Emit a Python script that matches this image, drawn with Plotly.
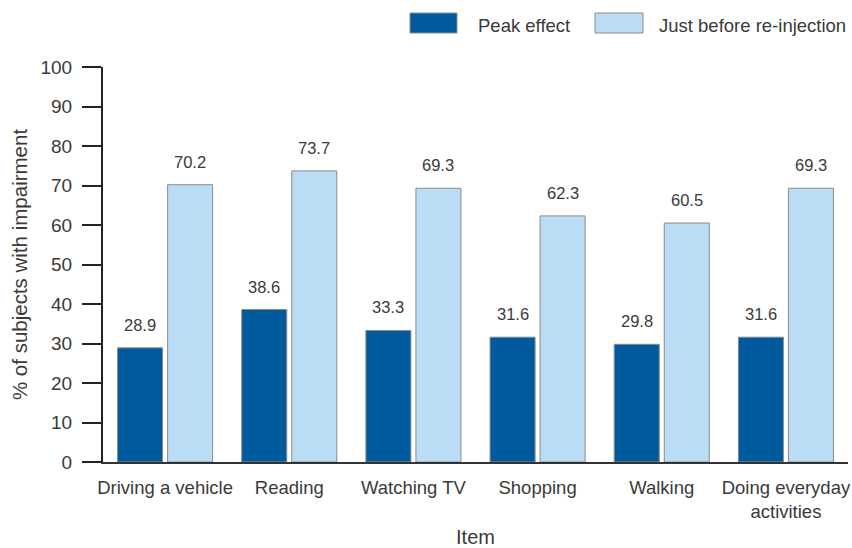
import plotly.graph_objects as go

# Data
categories = ["Driving a vehicle", "Reading", "Watching TV", "Shopping",
              "Walking", "Doing everyday<br>activities"]
peak_effect = [28.9, 38.6, 33.3, 31.6, 29.8, 31.6]
before_reinjection = [70.2, 73.7, 69.3, 62.3, 60.5, 69.3]
series_names = ["Peak effect", "Just before re-injection"]

DARK = "#005A9E"
LIGHT = "#BADCF4"
EDGE = "#8C8C8C"
TEXT = "#3A3A3A"
FONT = "Liberation Sans, Arial, sans-serif"

# plot-area geometry (pixels) used to place the custom legend
L, R, T, B = 103, 4, 67, 86
W, H = 852, 548
PW, PH = W - L - R, H - T - B


def px_x(px):
    return (px - L) / PW


def px_y(py):
    return (H - B - py) / PH


fig = go.Figure()
fig.add_trace(go.Bar(x=categories, y=peak_effect, name=series_names[0],
                     marker=dict(color=DARK, line=dict(color=EDGE, width=1))))
fig.add_trace(go.Bar(x=categories, y=before_reinjection, name=series_names[1],
                     marker=dict(color=LIGHT, line=dict(color=EDGE, width=1))))

# value labels above each bar
for i, cat in enumerate(categories):
    for j, vals in enumerate([peak_effect, before_reinjection]):
        fig.add_annotation(x=cat, y=vals[i], text=f"{vals[i]:.1f}",
                           xref="x", yref="y", showarrow=False,
                           xanchor="center", yanchor="bottom",
                           xshift=-25 if j == 0 else 25, yshift=12,
                           font=dict(size=16.5, color=TEXT, family=FONT))

# legend swatches and labels
legend_items = [(410, 457, 476, DARK), (595, 643, 657, LIGHT)]
for (x0, x1, tx, col), name in zip(legend_items, series_names):
    fig.add_shape(type="rect", xref="paper", yref="paper",
                  x0=px_x(x0), x1=px_x(x1), y0=px_y(33), y1=px_y(13),
                  fillcolor=col, line=dict(color=EDGE, width=1))
    fig.add_annotation(x=px_x(tx), y=px_y(25), xref="paper", yref="paper",
                       text=name, showarrow=False, xanchor="left",
                       yanchor="middle",
                       font=dict(size=18.5, color=TEXT, family=FONT))

fig.update_layout(
    width=W, height=H,
    margin=dict(l=L, r=R, t=T, b=B, pad=0, autoexpand=False),
    paper_bgcolor="white", plot_bgcolor="white",
    barmode="group", bargap=0.194, bargroupgap=0.1,
    showlegend=False,
    font=dict(family=FONT, color=TEXT),
)
fig.update_xaxes(
    automargin=False,
    showline=True, linecolor="#333333", linewidth=1.5,
    ticks="", showgrid=False,
    tickfont=dict(size=18.5, color=TEXT),
    ticklabelstandoff=8,
    title=dict(text="Item", font=dict(size=20, color=TEXT), standoff=12),
)
fig.update_yaxes(
    automargin=False,
    range=[0, 100], dtick=10, tick0=0,
    showline=True, linecolor="#222222", linewidth=2,
    ticks="outside", ticklen=19, tickwidth=2, tickcolor="#222222",
    showgrid=False, zeroline=False,
    tickfont=dict(size=19, color=TEXT),
    ticklabelstandoff=6,
    title=dict(text="% of subjects with impairment",
               font=dict(size=20.5, color=TEXT), standoff=7),
)

fig.write_html("out.html")
